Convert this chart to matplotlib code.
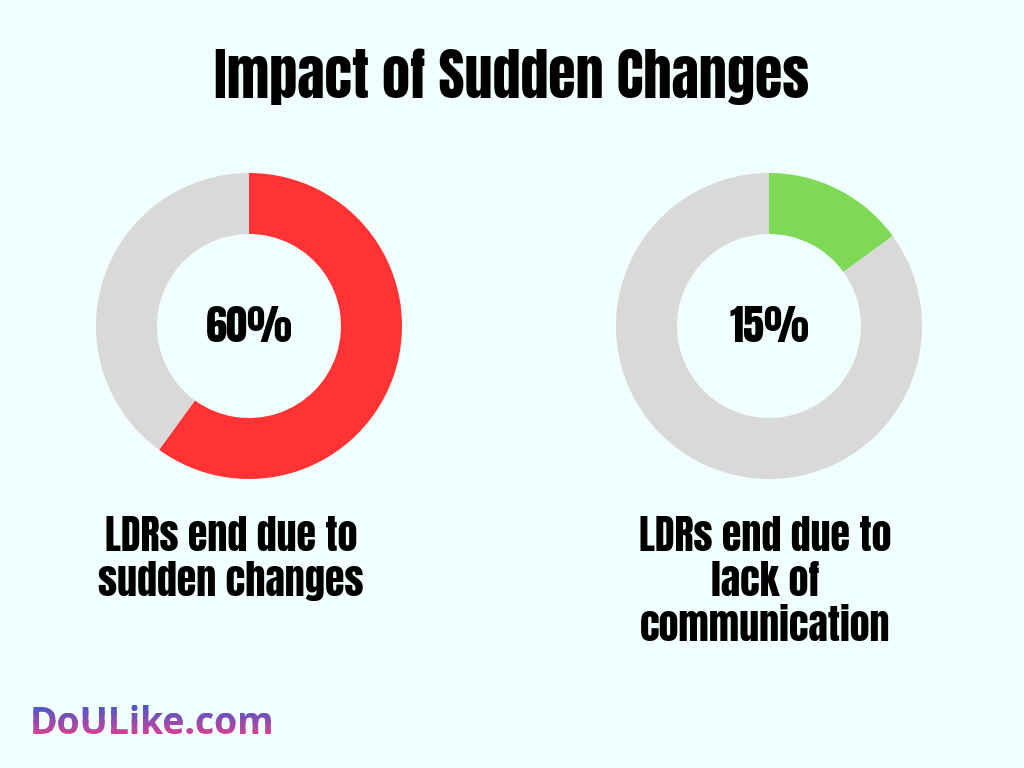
import matplotlib
matplotlib.use("Agg")
import matplotlib.pyplot as plt
import numpy as np
from matplotlib.transforms import Bbox, TransformedBbox
from matplotlib.colors import LinearSegmentedColormap

title = "Impact of Sudden Changes"
values = [60, 15]
labels = [["LDRs end due to", "sudden changes"],
          ["LDRs end due to", "lack of", "communication"]]
colors = ["#FF3333", "#7ED957"]
rest_color = "#D9D9D9"
bg = "#F0FEFD"
logo = "DoULike.com"

W, H = 1024, 768
fig = plt.figure(figsize=(W / 100, H / 100), dpi=100, facecolor=bg)

FAM = ["Anton", "DejaVu Sans"]

# overlay axes in pixel coordinates (y down)
lax = fig.add_axes([0, 0, 1, 1])
lax.set_xlim(0, W)
lax.set_ylim(H, 0)
lax.axis("off")
lax.set_facecolor("none")

lax.text(511, 98, title, ha="center", va="baseline", fontsize=40.3,
         family=FAM, color="black")

centers = [(249, 326), (769, 326)]
R_out, R_in = 153, 92
label_x = [231, 765]
baselines = [551, 596, 641]
for (cx, cy), v, lab, col, lx in zip(centers, values, labels, colors, label_x):
    ax = fig.add_axes([(cx - R_out) / W, (H - cy - R_out) / H, 2 * R_out / W, 2 * R_out / H])
    ax.set_facecolor("none")
    ax.pie([v, 100 - v], colors=[col, rest_color], startangle=90, counterclock=False,
           radius=1, wedgeprops=dict(width=1 - R_in / R_out, linewidth=0))
    ax.set_xlim(-1, 1)
    ax.set_ylim(-1, 1)
    ax.axis("off")
    lax.text(cx, cy + 16, f"{v}%", ha="center", va="baseline", fontsize=30.5,
             family=FAM, color="black")
    for line, by in zip(lab, baselines):
        lax.text(lx, by, line, ha="center", va="baseline", fontsize=28.8,
                 family=FAM, color="black")

# Gradient logo: stacked real text clipped into horizontal bands
cmap = LinearSegmentedColormap.from_list("g", ["#3A5CCB", "#8C4CB2", "#E53F8D"])
top, bot = 704, 736
nb = 32
edges = np.linspace(top - 2, bot + 2, nb + 1)
for i in range(nb):
    t = lax.text(30, 734, logo, ha="left", va="baseline", fontsize=26.8,
                 fontweight="bold", family=["Open Sans", "DejaVu Sans"],
                 color=cmap(i / (nb - 1)))
    bb = Bbox.from_extents(0, edges[i], 400, edges[i + 1] + 0.5)
    t.set_clip_box(TransformedBbox(bb, lax.transData))
    t.set_clip_on(True)

fig.savefig("out.png", dpi=100, facecolor=bg)
